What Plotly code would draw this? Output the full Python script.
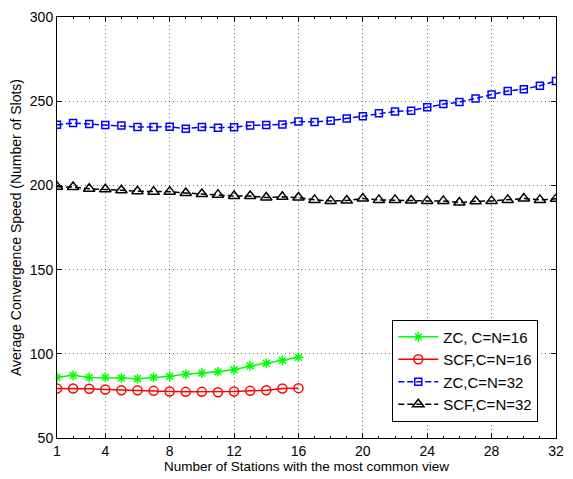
import plotly.graph_objects as go

x16 = list(range(1, 17))
x32 = list(range(1, 33))

zc16 = [86.0, 87.2, 86.0, 86.0, 85.6, 85.2, 86.0, 86.6, 87.9, 88.5, 89.3, 90.5, 92.8, 94.4, 96.1, 97.9]
scf16 = [79.4, 79.4, 79.2, 78.8, 78.4, 78.4, 78.0, 77.6, 77.4, 77.4, 77.2, 77.6, 78.0, 78.4, 79.4, 79.6]
zc32 = [236.0, 237.0, 236.4, 235.8, 235.6, 234.7, 234.7, 234.9, 233.7, 234.7, 234.3, 234.5,
        235.6, 235.8, 236.2, 238.0, 237.6, 238.4, 239.8, 241.1, 242.9, 243.9, 244.4, 246.4,
        248.3, 249.5, 251.6, 254.0, 256.1, 257.1, 259.2, 262.0]
scf32 = [199.2, 199.0, 198.0, 197.7, 197.1, 196.5, 196.3, 196.3, 195.5, 194.9, 194.5, 193.7,
         193.7, 192.8, 193.2, 192.8, 191.4, 190.8, 191.0, 192.2, 191.4, 191.4, 191.0, 190.8,
         190.8, 189.8, 190.6, 190.8, 191.4, 192.2, 191.4, 192.0]

names = ["ZC, C=N=16", "SCF,C=N=16", "ZC,C=N=32", "SCF,C=N=32"]
xticks = [1, 4, 8, 12, 16, 20, 24, 28, 32]
yticks = [50, 100, 150, 200, 250, 300]

FONT = "Liberation Sans, Arial, Helvetica, sans-serif"

fig = go.Figure()
fig.add_trace(go.Scatter(x=x16, y=zc16, name=names[0], mode="lines+markers",
                         line=dict(color="#00ff00", width=1.5),
                         marker=dict(symbol="asterisk-open", size=8, color="#00ff00",
                                     line=dict(color="#00ff00", width=1.5))))
fig.add_trace(go.Scatter(x=x16, y=scf16, name=names[1], mode="lines+markers",
                         line=dict(color="#ff0000", width=1.5),
                         marker=dict(symbol="circle-open", size=9, color="#ff0000",
                                     line=dict(color="#ff0000", width=1.5))))
fig.add_trace(go.Scatter(x=x32, y=zc32, name=names[2], mode="lines+markers",
                         line=dict(color="#0000ff", width=1.5, dash="6px,3px"),
                         marker=dict(symbol="square-open", size=7, color="#0000ff",
                                     line=dict(color="#0000ff", width=1.5))))
fig.add_trace(go.Scatter(x=x32, y=scf32, name=names[3], mode="lines+markers",
                         line=dict(color="#000000", width=1.5, dash="6px,3px"),
                         marker=dict(symbol="triangle-up-open", size=10, color="#000000",
                                     line=dict(color="#000000", width=1.5))))

axis_common = dict(
    showline=True, linecolor="black", linewidth=1, mirror="ticks",
    ticks="inside", ticklen=5, tickcolor="black",
    showgrid=True, gridcolor="rgba(0,0,0,0.55)", gridwidth=1, griddash="1px,3px",
    zeroline=False, tickfont=dict(family=FONT, size=14, color="black"),
)

fig.update_xaxes(range=[1, 32], tickvals=xticks, ticktext=[str(v) for v in xticks],
                 title=dict(text="Number of Stations with the most common view",
                            font=dict(family=FONT, size=13.5, color="black"), standoff=2),
                 minor=dict(dtick=1, ticks="inside", ticklen=2, tickcolor="black", showgrid=False),
                 **axis_common)
fig.update_yaxes(range=[50, 300], tickvals=yticks, ticktext=[str(v) for v in yticks],
                 title=dict(text="Average Convergence Speed (Number of Slots)",
                            font=dict(family=FONT, size=14, color="black"), standoff=4),
                 **axis_common)

fig.update_layout(
    width=573, height=479,
    margin=dict(l=57, r=9, t=13, b=38),
    paper_bgcolor="white", plot_bgcolor="white",
    font=dict(family=FONT, color="black"),
    legend=dict(x=0.9645, xanchor="right", y=0.039, yanchor="bottom",
                bgcolor="white", bordercolor="black", borderwidth=1,
                font=dict(family=FONT, size=15, color="black"),
                tracegroupgap=0, itemwidth=40),
)

fig.write_html("out.html")
